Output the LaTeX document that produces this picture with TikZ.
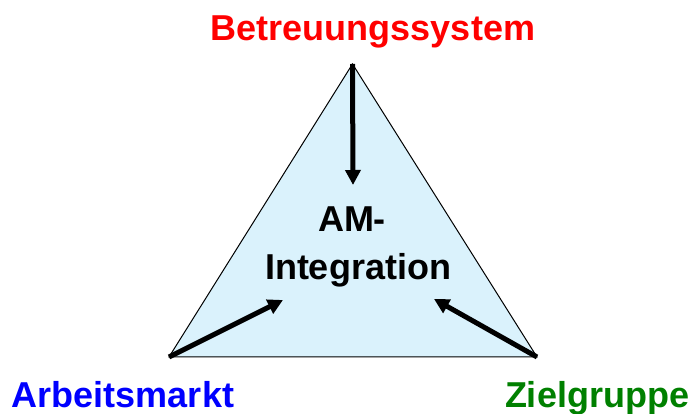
\documentclass[tikz,border=0pt]{standalone}
\usepackage{fontspec}
\setmainfont{Liberation Sans}
\usetikzlibrary{arrows.meta}
\definecolor{triblue}{RGB}{218,242,252}
\definecolor{labred}{RGB}{255,0,0}
\definecolor{labblue}{RGB}{0,0,255}
\definecolor{labgreen}{RGB}{0,128,0}
\begin{document}
\begin{tikzpicture}[x=1pt,y=1pt,
  lbl/.style={font=\fontsize{36}{41}\selectfont\bfseries, inner sep=0pt, anchor=base},
  push/.style={line width=5pt, -{Triangle[length=15pt,width=15pt]}}]
  \useasboundingbox (0,0) rectangle (691,414);
  % corners of the triangle
  \coordinate (top) at (352.5,350);
  \coordinate (bl) at (169,57);
  \coordinate (br) at (537,57);
  \filldraw[fill=triblue, draw=black, line width=1pt] (top) -- (br) -- (bl) -- cycle;
  % arrow tips
  \coordinate (t1) at (353,229);
  \coordinate (t2) at (283,114);
  \coordinate (t3) at (434,115);
  \draw[push] (top) -- (t1);
  \draw[push] (bl) -- (t2);
  \draw[push] (br) -- (t3);
  % labels
  \node[lbl] (center1) at (352,182) {AM-};
  \node[lbl] (center2) at (358,134) {Integration};
  \node[lbl, text=labred] (sys) at (373,373) {Betreuungssystem};
  \node[lbl, text=labblue] (market) at (123,6) {Arbeitsmarkt};
  \node[lbl, text=labgreen] (group) at (597,6) {Zielgruppe};
\end{tikzpicture}
\end{document}
